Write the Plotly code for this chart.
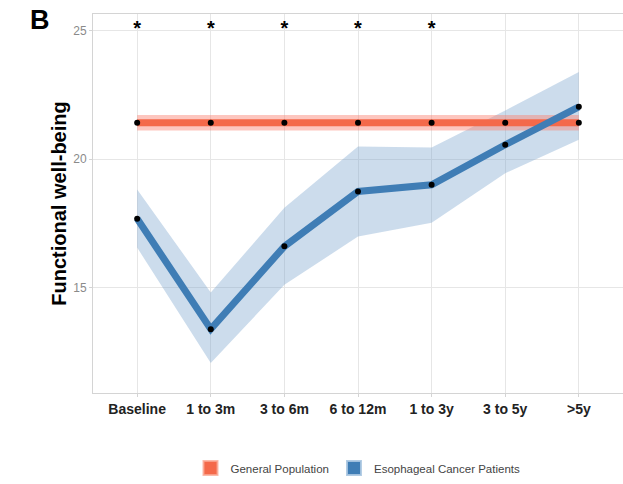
import plotly.graph_objects as go

# Time points after diagnosis
categories = ["Baseline", "1 to 3m", "3 to 6m", "6 to 12m", "1 to 3y", "3 to 5y", ">5y"]

# General population reference (mean with narrow CI)
gp_mean = [21.42, 21.42, 21.42, 21.42, 21.42, 21.42, 21.42]
gp_lower = [21.12, 21.12, 21.12, 21.12, 21.12, 21.12, 21.12]
gp_upper = [21.72, 21.72, 21.72, 21.72, 21.72, 21.72, 21.72]

# Esophageal cancer patients (mean with CI)
ec_mean = [17.68, 13.37, 16.60, 18.74, 19.00, 20.56, 22.04]
ec_lower = [16.55, 12.05, 15.10, 16.98, 17.52, 19.45, 20.76]
ec_upper = [18.82, 14.80, 18.10, 20.49, 20.45, 21.90, 23.40]

# Significant differences marked with an asterisk
significant = [True, True, True, True, True, False, False]
star_level = 25.04

xs = list(range(len(categories)))

RED = "#f4694a"
RED_FILL = "rgba(250,128,114,0.45)"
BLUE = "#3f7db5"
BLUE_FILL = "rgba(122,163,204,0.38)"

fig = go.Figure()

# Ribbons
fig.add_trace(go.Scatter(
    x=xs + xs[::-1], y=ec_upper + ec_lower[::-1], fill="toself",
    fillcolor=BLUE_FILL, line=dict(width=0), mode="lines",
    hoverinfo="skip", showlegend=False))
fig.add_trace(go.Scatter(
    x=xs + xs[::-1], y=gp_upper + gp_lower[::-1], fill="toself",
    fillcolor=RED_FILL, line=dict(width=0), mode="lines",
    hoverinfo="skip", showlegend=False))

# Mean lines
fig.add_trace(go.Scatter(x=xs, y=gp_mean, mode="lines",
                         line=dict(color=RED, width=7), showlegend=False))
fig.add_trace(go.Scatter(x=xs, y=ec_mean, mode="lines",
                         line=dict(color=BLUE, width=7), showlegend=False))

# Points
fig.add_trace(go.Scatter(x=xs, y=gp_mean, mode="markers",
                         marker=dict(color="black", size=6), showlegend=False))
fig.add_trace(go.Scatter(x=xs, y=ec_mean, mode="markers",
                         marker=dict(color="black", size=6), showlegend=False))

# Asterisks
star_x = [x for x, s in zip(xs, significant) if s]
fig.add_trace(go.Scatter(
    x=star_x, y=[star_level] * len(star_x), mode="text",
    text=["<b>*</b>"] * len(star_x), textposition="middle center",
    textfont=dict(size=20, color="black", family="Liberation Sans"),
    showlegend=False, hoverinfo="skip"))

# Legend entries (square swatches: strong centre, pale rim)
fig.add_trace(go.Scatter(x=[None], y=[None], mode="markers",
                         marker=dict(symbol="square", size=14, color=RED,
                                     line=dict(color="rgba(250,170,150,0.8)", width=2)),
                         name="General Population"))
fig.add_trace(go.Scatter(x=[None], y=[None], mode="markers",
                         marker=dict(symbol="square", size=14, color=BLUE,
                                     line=dict(color="rgba(170,198,225,0.9)", width=2)),
                         name="Esophageal Cancer Patients"))

fig.add_annotation(text="<b>B</b>", xref="paper", yref="paper",
                   x=-0.1, y=0.985, xanchor="center", yanchor="middle",
                   showarrow=False, font=dict(size=27, color="black", family="Liberation Sans"))

fig.update_layout(
    width=623, height=484,
    margin=dict(l=93, r=0, t=14, b=91),
    paper_bgcolor="white", plot_bgcolor="white",
    font=dict(family="Liberation Sans", color="#333333"),
    legend=dict(orientation="h", x=0.5, xanchor="center", y=-0.198, yanchor="middle",
                font=dict(size=11.5, color="#444444"), itemwidth=30),
    xaxis=dict(
        range=[-0.6, 6.6], tickmode="array", tickvals=xs,
        ticktext=[f"<b>{c}</b>" for c in categories],
        tickfont=dict(size=14, color="#222222", family="Liberation Sans"),
        showgrid=True, gridcolor="#e6e6e6", gridwidth=1, zeroline=False,
        showline=True, linecolor="#d4d4d4", linewidth=1, mirror=True,
        ticks="outside", ticklen=3, tickcolor="#d4d4d4"),
    yaxis=dict(
        range=[10.88, 25.66], tickvals=[15, 20, 25],
        tickfont=dict(size=12, color="#8a8a8a", family="Liberation Sans"),
        showgrid=True, gridcolor="#e6e6e6", gridwidth=1, zeroline=False,
        showline=True, linecolor="#d4d4d4", linewidth=1, mirror=True,
        ticks="outside", ticklen=3, tickcolor="#d4d4d4",
        title=dict(text="<b>Functional well-being</b>", standoff=1,
                   font=dict(size=20, color="black", family="Liberation Sans"))),
)

fig.write_html("out.html")
